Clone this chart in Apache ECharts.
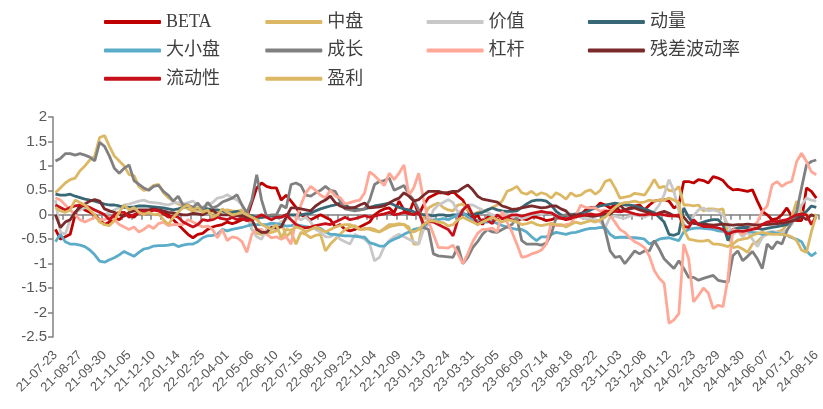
<!DOCTYPE html>
<html>
<head>
<meta charset="utf-8">
<script src="https://cdn.jsdelivr.net/npm/echarts@6/dist/echarts.min.js"></script>
<style>
  html, body { margin: 0; padding: 0; background: #fff; }
  #chart { width: 823px; height: 409px; }
</style>
</head>
<body>
<div id="chart"></div>
<script>
// weekly dates (holiday weeks skipped)
const dates = [
  '21-07-23','21-07-30','21-08-06','21-08-13','21-08-20','21-08-27','21-09-03','21-09-10','21-09-17','21-09-24',
  '21-09-30','21-10-08','21-10-15','21-10-22','21-10-29','21-11-05','21-11-12','21-11-19','21-11-26','21-12-03',
  '21-12-10','21-12-17','21-12-24','21-12-31','22-01-07','22-01-14','22-01-21','22-01-28','22-02-11','22-02-18',
  '22-02-25','22-03-04','22-03-11','22-03-18','22-03-25','22-04-01','22-04-08','22-04-15','22-04-22','22-04-29',
  '22-05-06','22-05-13','22-05-20','22-05-27','22-06-02','22-06-10','22-06-17','22-06-24','22-07-01','22-07-08',
  '22-07-15','22-07-22','22-07-29','22-08-05','22-08-12','22-08-19','22-08-26','22-09-02','22-09-09','22-09-16',
  '22-09-23','22-09-30','22-10-14','22-10-21','22-10-28','22-11-04','22-11-11','22-11-18','22-11-25','22-12-02',
  '22-12-09','22-12-16','22-12-23','22-12-30','23-01-06','23-01-13','23-01-20','23-02-03','23-02-10','23-02-17',
  '23-02-24','23-03-03','23-03-10','23-03-17','23-03-24','23-03-31','23-04-07','23-04-14','23-04-21','23-04-28',
  '23-05-05','23-05-12','23-05-19','23-05-26','23-06-02','23-06-09','23-06-16','23-06-21','23-06-30','23-07-07',
  '23-07-14','23-07-21','23-07-28','23-08-04','23-08-11','23-08-18','23-08-25','23-09-01','23-09-08','23-09-15',
  '23-09-22','23-09-28','23-10-13','23-10-20','23-10-27','23-11-03','23-11-10','23-11-17','23-11-24','23-12-01',
  '23-12-08','23-12-15','23-12-22','23-12-29','24-01-05','24-01-12','24-01-19','24-01-26','24-02-02','24-02-08',
  '24-02-23','24-03-01','24-03-08','24-03-15','24-03-22','24-03-29','24-04-03','24-04-12','24-04-19','24-04-26',
  '24-04-30','24-05-10','24-05-17','24-05-24','24-05-31','24-06-07','24-06-14','24-06-21','24-06-28','24-07-05',
  '24-07-12','24-07-19','24-07-26','24-08-02','24-08-09','24-08-16'
];

const beta = [
  -0.3,-0.5,-0.45,-0.4,0.0,0.2,0.1,0.05,0.0,-0.1,
  -0.2,-0.15,-0.05,-0.1,0.0,0.0,-0.05,0.05,0.0,0.05,
  0.1,0.08,0.05,0.0,-0.1,-0.2,-0.3,-0.4,-0.47,-0.4,
  -0.38,-0.3,-0.25,-0.22,-0.2,-0.15,-0.18,-0.15,-0.1,-0.05,
  0.25,0.55,0.65,0.58,0.55,0.55,0.3,0.4,0.28,0.15,
  0.0,-0.05,-0.1,-0.05,0.0,-0.05,-0.1,-0.25,-0.2,-0.3,
  -0.33,-0.3,-0.25,-0.2,-0.15,0.0,0.07,0.12,0.14,0.04,
  0.28,0.1,0.02,0.28,0.0,0.2,0.35,0.4,0.45,0.45,
  0.42,0.48,0.38,0.3,0.1,-0.1,0.0,-0.2,-0.05,-0.07,
  -0.1,-0.08,-0.05,-0.1,-0.12,-0.08,-0.1,-0.05,-0.05,-0.08,
  -0.12,-0.1,-0.07,-0.07,-0.1,-0.08,-0.05,0.0,0.1,0.15,
  0.14,0.24,0.2,0.14,0.2,0.07,0.1,0.14,0.18,0.2,
  0.1,0.2,0.28,0.3,0.31,0.28,0.14,0.2,0.68,0.68,
  0.65,0.72,0.7,0.65,0.78,0.75,0.7,0.58,0.51,0.52,
  0.5,0.48,0.51,0.28,0.07,0.0,-0.1,-0.08,0.0,0.14,
  -0.03,-0.12,-0.12,0.55,0.48,0.34
];

const midCap = [
  0.45,0.55,0.65,0.72,0.75,0.9,1.0,1.12,1.2,1.58,
  1.62,1.4,1.2,1.1,1.0,0.82,0.8,0.58,0.5,0.52,
  0.6,0.62,0.45,0.35,0.28,0.22,0.18,0.12,0.07,0.1,
  0.07,0.12,0.05,0.03,0.08,0.1,0.08,0.07,0.1,0.07,
  -0.3,-0.38,-0.4,-0.38,-0.36,-0.33,-0.13,-0.45,-0.35,-0.6,
  -0.36,-0.4,-0.47,-0.42,-0.4,-0.74,-0.6,-0.5,-0.4,-0.3,
  -0.25,-0.22,-0.3,-0.3,-0.27,-0.3,-0.35,-0.28,-0.2,-0.2,
  -0.18,-0.2,-0.25,-0.6,-0.6,-0.06,0.14,0.2,0.24,0.15,
  0.1,0.08,0.2,0.22,0.1,0.0,0.05,0.08,0.1,0.15,
  0.2,0.28,0.48,0.52,0.58,0.45,0.42,0.48,0.4,0.45,
  0.42,0.34,0.45,0.4,0.32,0.45,0.38,0.4,0.48,0.51,
  0.42,0.5,0.68,0.72,0.55,0.34,0.36,0.38,0.44,0.42,
  0.4,0.55,0.72,0.55,0.58,0.5,0.48,0.58,0.2,0.2,
  0.18,0.2,0.08,0.12,0.12,0.1,0.12,-0.4,-0.67,-0.65,
  -0.7,-0.77,-0.6,-0.55,-0.45,-0.4,-0.38,-0.35,-0.32,-0.2,
  -0.05,0.28,0.05,0.0,-0.02,0.0
];

const value = [
  0.3,-0.35,-0.4,-0.1,0.05,0.1,0.15,0.12,0.1,0.05,
  0.0,0.05,0.1,0.15,0.2,0.22,0.25,0.28,0.3,0.26,
  0.25,0.24,0.22,0.2,0.24,0.25,0.22,0.25,0.28,0.2,
  0.15,0.2,0.25,0.34,0.36,0.41,0.35,0.3,0.2,0.0,
  -0.3,-0.45,-0.5,-0.3,-0.2,-0.22,-0.15,-0.1,0.0,-0.05,
  -0.1,-0.05,-0.15,-0.3,-0.35,-0.45,-0.45,-0.4,-0.5,-0.55,
  -0.6,-0.4,-0.45,-0.5,-0.6,-0.94,-0.87,-0.65,-0.53,-0.45,
  -0.4,-0.45,-0.5,-0.55,-0.6,-0.3,-0.2,0.1,0.2,0.25,
  0.31,0.25,0.05,0.1,0.2,0.2,0.15,0.1,0.05,0.0,
  -0.03,0.0,0.02,-0.05,-0.03,-0.08,-0.05,0.0,0.03,0.0,
  0.05,0.03,0.0,-0.03,0.0,0.02,0.0,-0.05,-0.08,-0.1,
  -0.1,-0.15,-0.26,-0.05,-0.03,-0.06,-0.07,-0.03,0.0,-0.02,
  -0.05,0.0,0.07,0.2,0.41,0.72,0.48,0.07,-0.2,-0.26,
  -0.02,0.1,0.14,0.08,0.1,0.07,0.0,-0.2,-0.4,-0.33,
  -0.45,-0.35,-0.5,-0.65,-0.47,-0.36,-0.34,-0.36,-0.38,-0.3,
  -0.2,0.0,0.2,0.34,0.3,0.28
];

const momentum = [
  0.42,0.4,0.4,0.42,0.38,0.35,0.32,0.3,0.28,0.25,
  0.22,0.2,0.2,0.18,0.15,0.15,0.16,0.18,0.18,0.17,
  0.16,0.15,0.14,0.12,0.1,0.12,0.15,0.18,0.15,0.12,
  0.14,0.12,0.1,0.1,0.08,0.04,0.05,0.07,0.03,0.0,
  -0.02,-0.05,-0.06,-0.04,-0.02,-0.06,-0.05,0.0,0.0,0.0,
  0.0,0.02,0.03,0.08,0.12,0.15,0.18,0.2,0.24,0.2,
  0.14,0.12,0.1,0.12,0.15,0.18,0.2,0.22,0.24,0.2,
  0.15,0.12,0.1,0.06,0.03,0.0,0.0,-0.02,0.0,0.0,
  -0.02,0.0,0.0,0.02,0.0,0.0,0.03,0.05,0.1,0.14,
  0.1,0.08,0.07,0.07,0.08,0.15,0.22,0.28,0.3,0.3,
  0.28,0.2,0.07,0.0,-0.02,0.0,0.02,0.03,0.05,0.1,
  0.15,0.18,0.2,0.22,0.24,0.22,0.2,0.2,0.18,0.15,
  0.12,0.08,0.04,-0.05,-0.15,-0.4,-0.42,-0.38,0.14,-0.05,
  -0.18,-0.18,-0.15,-0.12,-0.1,-0.1,-0.2,-0.53,-0.3,-0.27,
  -0.26,-0.26,-0.27,-0.28,-0.3,-0.28,-0.26,-0.24,-0.22,-0.2,
  -0.12,-0.05,0.0,0.07,0.18,0.15
];

const sizeFactor = [
  -0.55,-0.4,-0.55,-0.6,-0.6,-0.62,-0.65,-0.72,-0.82,-0.95,
  -0.97,-0.92,-0.88,-0.82,-0.75,-0.8,-0.85,-0.77,-0.7,-0.68,
  -0.64,-0.63,-0.63,-0.62,-0.6,-0.65,-0.62,-0.6,-0.6,-0.55,
  -0.47,-0.43,-0.42,-0.4,-0.3,-0.33,-0.3,-0.28,-0.26,-0.23,
  -0.2,-0.2,-0.2,-0.2,-0.17,-0.18,-0.2,-0.23,-0.22,-0.2,
  -0.22,-0.24,-0.26,-0.27,-0.28,-0.35,-0.4,-0.4,-0.42,-0.43,
  -0.43,-0.44,-0.45,-0.46,-0.57,-0.6,-0.64,-0.64,-0.55,-0.5,
  -0.46,-0.4,-0.35,-0.3,-0.28,-0.25,-0.15,-0.1,-0.1,-0.08,
  -0.1,-0.05,0.0,0.05,-0.05,-0.1,-0.12,-0.15,-0.15,-0.13,
  -0.18,-0.22,-0.25,-0.28,-0.3,-0.3,-0.35,-0.45,-0.53,-0.45,
  -0.45,-0.4,-0.36,-0.38,-0.4,-0.37,-0.36,-0.33,-0.3,-0.28,
  -0.28,-0.26,-0.26,-0.4,-0.47,-0.46,-0.46,-0.47,-0.47,-0.48,
  -0.5,-0.6,-0.55,-0.5,-0.48,-0.47,-0.5,-0.53,-0.35,-0.3,
  -0.28,-0.27,-0.28,-0.29,-0.3,-0.33,-0.34,-0.36,-0.34,-0.33,
  -0.33,-0.34,-0.36,-0.37,-0.4,-0.38,-0.36,-0.38,-0.4,-0.42,
  -0.47,-0.5,-0.55,-0.74,-0.84,-0.77
];

const growth = [
  1.1,1.15,1.25,1.25,1.22,1.25,1.22,1.18,1.1,1.48,
  1.4,1.2,0.95,0.85,0.95,1.02,0.7,0.62,0.55,0.5,
  0.58,0.6,0.48,0.4,0.28,0.38,0.2,0.2,0.15,0.24,
  0.1,0.25,0.14,0.18,0.26,0.3,0.34,0.41,0.2,0.04,
  0.3,0.82,0.3,-0.03,0.0,0.0,0.2,0.14,0.62,0.65,
  0.6,0.4,0.38,0.45,0.5,0.58,0.5,0.48,0.28,0.12,
  0.1,0.08,0.1,0.12,0.3,0.62,0.68,0.7,0.75,0.5,
  0.55,0.6,0.42,0.3,0.1,-0.26,-0.3,-0.8,-0.84,-0.85,
  -0.86,-0.87,-0.64,-1.0,-0.87,-0.67,-0.55,-0.4,-0.3,-0.35,
  -0.36,-0.3,-0.25,-0.2,-0.06,-0.53,-0.6,-0.6,-0.6,-0.62,
  -0.58,-0.4,-0.06,-0.03,0.0,-0.05,0.0,-0.02,0.02,0.0,
  -0.03,0.0,-0.33,-0.74,-0.87,-0.85,-1.0,-0.87,-0.74,-0.8,
  -0.74,-0.74,-0.53,-0.7,-0.9,-1.0,-1.1,-0.94,-1.1,-1.28,
  -1.28,-1.34,-1.3,-1.27,-1.24,-1.34,-1.36,-1.38,-0.84,-0.74,
  -0.94,-0.85,-0.75,-0.9,-1.1,-0.6,-0.7,-0.55,-0.6,-0.33,
  -0.15,0.07,0.55,1.02,1.09,1.12
];

const leverage = [
  0.35,0.3,0.2,0.1,0.0,-0.1,-0.15,-0.1,-0.05,-0.1,
  -0.1,-0.05,-0.1,-0.2,-0.25,-0.3,-0.25,-0.35,-0.3,-0.22,
  -0.28,-0.18,-0.15,-0.22,-0.2,-0.2,-0.2,-0.1,-0.15,-0.2,
  -0.25,-0.23,-0.3,-0.47,-0.3,-0.53,-0.45,-0.47,-0.55,-0.77,
  -0.4,-0.3,-0.3,-0.4,-0.47,-0.45,-0.5,-0.45,-0.6,-0.1,
  0.2,0.45,0.58,0.5,0.4,0.35,0.5,0.38,0.35,0.22,
  0.25,0.28,0.3,0.45,0.88,0.8,0.7,0.6,0.85,0.72,
  0.85,1.02,0.4,0.55,0.85,0.3,-0.13,-0.4,-0.67,-0.67,
  -0.68,-0.62,-0.8,-1.0,-0.8,-0.55,-0.38,-0.3,-0.3,-0.27,
  -0.35,0.07,-0.15,-0.35,-0.6,-0.87,-0.85,-0.8,-0.77,-0.72,
  -0.6,-0.17,-0.22,-0.22,-0.2,-0.18,-0.02,0.2,0.15,0.14,
  0.14,0.07,0.1,-0.02,-0.15,-0.3,-0.36,-0.47,-0.55,-0.6,
  -0.67,-0.85,-1.14,-1.3,-1.4,-2.22,-2.15,-2.02,-0.6,-0.9,
  -1.78,-1.65,-1.5,-1.6,-1.92,-1.85,-1.88,-1.3,-0.3,-0.33,
  -0.4,-0.33,-0.25,-0.15,0.07,0.18,0.61,0.68,0.58,0.65,
  0.68,1.09,1.26,1.09,0.88,0.82
];

const residVol = [
  0.0,-0.26,-0.15,-0.1,0.05,0.15,0.22,0.28,0.31,0.28,
  0.12,0.08,0.05,0.0,-0.03,0.05,0.08,0.1,0.1,0.1,
  0.12,0.1,0.08,0.05,0.04,0.02,0.0,0.0,0.03,0.02,
  0.0,0.05,0.1,0.02,0.0,0.0,0.0,-0.02,-0.03,-0.05,
  -0.1,-0.3,-0.36,-0.36,-0.26,-0.27,-0.25,-0.05,0.14,0.14,
  0.12,0.1,0.08,0.18,0.25,0.3,0.38,0.25,0.18,0.14,
  0.14,0.15,0.2,0.24,0.14,0.15,0.16,0.18,0.24,0.3,
  0.34,0.45,0.38,0.28,0.31,0.4,0.48,0.48,0.48,0.45,
  0.46,0.48,0.48,0.55,0.61,0.51,0.38,0.32,0.3,0.28,
  0.26,0.18,0.15,0.11,0.12,0.14,0.16,0.18,0.16,0.14,
  0.15,0.18,0.18,0.12,0.08,-0.03,0.0,0.01,-0.01,-0.03,
  -0.02,0.0,0.02,0.01,0.1,0.2,0.1,0.12,0.14,0.1,
  0.07,0.05,0.0,0.04,0.07,0.03,-0.02,-0.03,-0.05,-0.17,
  -0.16,-0.2,-0.19,-0.2,-0.21,-0.2,-0.19,-0.2,-0.21,-0.2,
  -0.2,-0.19,-0.2,-0.21,-0.2,-0.2,-0.19,-0.18,-0.17,-0.15,
  -0.13,-0.1,-0.03,-0.1,0.0,-0.05
];

const liquidity = [
  0.2,0.15,0.1,0.15,0.18,0.2,0.18,0.15,0.1,0.05,
  0.0,-0.1,0.0,0.05,0.05,-0.05,0.0,0.05,0.08,0.05,
  0.1,0.08,0.02,-0.05,-0.02,-0.05,-0.15,-0.2,-0.25,-0.2,
  -0.1,-0.12,-0.1,-0.05,-0.08,-0.1,-0.05,-0.1,-0.08,-0.12,
  -0.1,-0.05,0.0,-0.05,-0.1,-0.05,-0.05,0.0,-0.1,-0.2,
  -0.25,-0.27,-0.25,-0.22,-0.2,-0.18,-0.2,-0.15,-0.1,-0.05,
  -0.1,-0.08,-0.05,-0.02,-0.05,-0.03,0.0,0.02,0.05,0.0,
  0.02,0.05,0.03,0.0,0.05,-0.2,-0.13,-0.15,-0.2,-0.25,
  -0.3,-0.43,-0.1,0.1,0.2,0.0,-0.2,-0.1,-0.12,-0.18,
  0.0,-0.08,-0.05,0.0,0.0,-0.03,0.0,0.03,0.05,0.07,
  0.05,0.04,-0.02,-0.07,-0.08,-0.07,-0.04,-0.02,0.0,0.02,
  0.0,0.01,0.07,0.08,0.07,0.06,0.08,0.05,0.02,0.0,
  0.0,0.02,0.0,0.02,0.0,-0.02,-0.02,0.0,-0.24,-0.26,
  -0.1,-0.2,-0.24,-0.24,-0.25,-0.27,-0.3,-0.4,-0.35,-0.33,
  -0.34,-0.32,-0.3,-0.28,-0.2,-0.15,-0.13,-0.14,-0.12,-0.1,
  -0.05,0.0,0.02,0.0,-0.2,-0.03
];

const earnings = [
  0.15,0.08,0.05,0.1,0.3,0.25,0.2,0.1,0.0,-0.15,
  -0.2,-0.22,-0.12,0.05,0.2,0.1,0.15,0.05,0.0,0.05,
  0.0,0.02,-0.1,-0.2,-0.05,0.05,0.15,0.2,0.1,0.15,
  0.05,0.1,-0.05,0.0,0.12,0.05,0.0,0.02,0.05,0.0,
  -0.05,-0.1,-0.2,-0.25,-0.3,-0.2,-0.47,-0.3,-0.32,-0.25,
  -0.28,-0.35,-0.3,-0.25,-0.3,-0.35,-0.3,-0.25,-0.22,-0.2,
  -0.2,-0.25,-0.3,-0.28,-0.3,-0.33,-0.35,-0.3,-0.25,-0.22,
  -0.2,-0.2,-0.3,-0.35,-0.3,-0.2,-0.13,-0.12,-0.15,-0.16,
  -0.23,-0.2,-0.1,-0.05,-0.1,-0.15,-0.2,-0.15,-0.1,-0.05,
  -0.1,-0.15,-0.1,-0.12,-0.15,-0.2,-0.18,-0.15,-0.2,-0.22,
  -0.2,-0.18,-0.2,-0.2,-0.25,-0.2,-0.15,-0.18,-0.15,-0.12,
  -0.15,-0.1,-0.05,0.05,0.15,0.22,0.25,0.26,0.28,0.25,
  0.26,0.3,0.28,0.3,0.3,0.34,0.3,0.25,-0.3,-0.5,
  -0.52,-0.54,-0.54,-0.52,-0.6,-0.6,-0.62,-0.65,-0.6,-0.52,
  -0.5,-0.48,-0.42,-0.38,-0.36,-0.38,-0.4,-0.4,-0.4,-0.42,
  -0.45,-0.53,-0.72,-0.77,-0.35,0.0
];

const seriesNames = ['BETA','中盘','价值','动量','大小盘','成长','杠杆','残差波动率','流动性','盈利'];
const seriesData = [beta, midCap, value, momentum, sizeFactor, growth, leverage, residVol, liquidity, earnings];
const colors = ['#c00000','#dcb865','#c8c8c8','#386775','#5aacc8','#808080','#ffa898','#7a2a2a','#c8101a','#dcb865'];

const chart = echarts.init(document.getElementById('chart'));

// legend laid out as 4 columns x 3 rows
const legends = seriesNames.map((name, k) => ({
  data: [name],
  left: 99 + (k % 4) * 161.3,
  top: 8 + Math.floor(k / 4) * 28.4,
  icon: 'roundRect',
  itemWidth: 57,
  itemHeight: 4,
  itemGap: 0,
  textStyle: { fontSize: 18, color: '#404040', fontFamily: '"Liberation Serif", "Noto Sans CJK SC", serif' }
}));

chart.setOption({
  animation: false,
  color: colors,
  legend: legends,
  grid: { left: 53, right: 3, top: 117, bottom: 72 },
  xAxis: [
    {
      type: 'category',
      data: dates,
      boundaryGap: true,
      position: 'bottom',
      axisLine: { show: false, onZero: false },
      axisTick: { show: false },
      axisLabel: { interval: 4, rotate: 45, fontSize: 13, color: '#595959', margin: 16, fontFamily: '"Liberation Sans", Arial, sans-serif' },
      splitLine: { show: false }
    },
    {
      type: 'category',
      data: dates,
      boundaryGap: true,
      position: 'bottom',
      axisLine: { show: true, onZero: true, lineStyle: { color: '#808080', width: 1.5 } },
      axisTick: { show: true, interval: 1, length: 5, lineStyle: { color: '#808080', width: 1.5 } },
      axisLabel: { show: false },
      splitLine: { show: false }
    }
  ],
  yAxis: {
    type: 'value',
    min: -2.5,
    max: 2,
    interval: 0.5,
    axisLine: { show: true, lineStyle: { color: '#808080', width: 1.5 } },
    axisTick: { show: true, length: 5, lineStyle: { color: '#808080', width: 1.5 } },
    axisLabel: { fontSize: 15, color: '#595959', margin: 6, fontFamily: '"Liberation Sans", Arial, sans-serif' },
    splitLine: { show: false }
  },
  series: seriesNames.map((name, k) => ({
    name: name,
    type: 'line',
    xAxisIndex: 0,
    data: seriesData[k],
    symbol: 'none',
    lineStyle: { width: 2.8, color: colors[k] },
    itemStyle: { color: colors[k] }
  }))
});
</script>
</body>
</html>
